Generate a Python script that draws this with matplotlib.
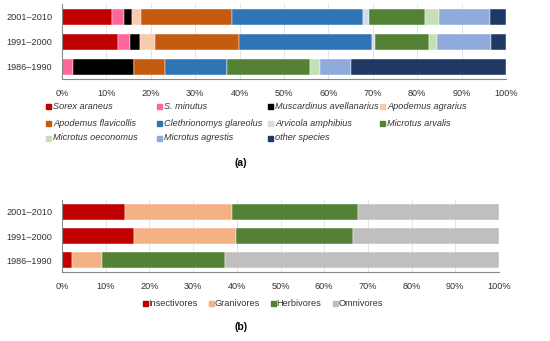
import numpy as np
import matplotlib.pyplot as plt
from matplotlib.patches import Rectangle

plt.rcParams['font.family'] = ['Liberation Sans', 'DejaVu Sans']

periods = ['1986–1990', '1991–2000', '2001–2010']

# (a) share of species, %, per period (same order as periods)
species = ['Sorex araneus', 'S. minutus', 'Muscardinus avellanarius', 'Apodemus agrarius',
           'Apodemus flavicollis', 'Clethrionomys glareolus', 'Arvicola amphibius', 'Microtus arvalis',
           'Microtus oeconomus', 'Microtus agrestis', 'other species']
species_vals = [
    [0.0, 12.7, 11.3],
    [2.4, 2.7, 2.6],
    [13.9, 2.2, 1.8],
    [0.0, 3.4, 2.0],
    [6.9, 18.9, 20.5],
    [14.0, 30.0, 29.5],
    [0.0, 0.6, 1.4],
    [18.7, 12.1, 12.7],
    [2.3, 1.8, 3.0],
    [7.0, 12.2, 11.6],
    [34.8, 3.4, 3.7],
]
species_colors = ['#C00000', '#FF669E', '#000000', '#F8CBAD', '#C55A11', '#2E75B6',
                  '#D6DCE5', '#548235', '#C5E0B4', '#8FAADC', '#203864']

# (b) trophic groups, %
groups = ['Insectivores', 'Granivores', 'Herbivores', 'Omnivores']
group_vals = [
    [2.3, 16.5, 14.5],
    [6.8, 23.3, 24.3],
    [28.1, 26.9, 28.9],
    [62.8, 33.3, 32.3],
]
group_colors = ['#C00000', '#F4B183', '#548235', '#BFBFBF']

FS = 6.6
W, H = 550, 341
fig = plt.figure(figsize=(W / 100, H / 100), dpi=100)


def px_axes(x0, y0, x1, y1):
    return fig.add_axes([x0 / W, 1 - y1 / H, (x1 - x0) / W, (y1 - y0) / H])


def style(ax):
    ax.set_xlim(0, 100)
    ax.set_ylim(-0.5, 2.5)
    ax.set_xticks(np.arange(0, 101, 10))
    ax.set_xticklabels([f'{v}%' for v in range(0, 101, 10)])
    ax.set_yticks(range(len(periods)))
    ax.set_yticklabels(periods)
    ax.tick_params(length=0, labelsize=FS, colors='#333333')
    ax.tick_params(axis='x', pad=7)
    ax.tick_params(axis='y', pad=7)
    ax.grid(axis='x', color='#E3E3E3', lw=0.7)
    ax.set_axisbelow(True)
    for s in ['top', 'right']:
        ax.spines[s].set_visible(False)
    for s in ['left', 'bottom']:
        ax.spines[s].set_color('#888888')
        ax.spines[s].set_linewidth(0.8)


def stacked(ax, vals, colors, height):
    left = np.zeros(len(periods))
    for v, c in zip(vals, colors):
        v = np.array(v)
        ax.barh(range(len(periods)), v, left=left, height=height, color=c,
                edgecolor='white', linewidth=0.3)
        left += v


ax1 = px_axes(62, 4, 506, 79)
stacked(ax1, species_vals, species_colors, 0.64)
style(ax1)

ax2 = px_axes(62, 200, 499, 272)
stacked(ax2, group_vals, group_colors, 0.7)
style(ax2)

# legend (a), 4 columns row-major
col_x = [46, 157, 268, 380]
row_y = [107, 123, 138]
for i, (name, c) in enumerate(zip(species, species_colors)):
    x, y = col_x[i % 4], row_y[i // 4]
    fig.patches.append(Rectangle((x / W, 1 - (y + 2.5) / H), 5 / W, 5 / H,
                                 transform=fig.transFigure, color=c))
    fig.text((x + 7) / W, 1 - y / H, name, fontsize=FS, style='italic',
             va='center', ha='left', color='#333333')

# legend (b), single row
leg_x = [143, 209, 271, 333]
for x, name, c in zip(leg_x, groups, group_colors):
    y = 303
    fig.patches.append(Rectangle((x / W, 1 - (y + 2.5) / H), 5 / W, 5 / H,
                                 transform=fig.transFigure, color=c))
    fig.text((x + 5.5) / W, 1 - y / H, name, fontsize=FS, va='center', ha='left',
             color='#333333')

fig.text(241 / W, 1 - 163 / H, '(a)', fontsize=7.5, fontweight='bold', ha='center', va='center')
fig.text(241 / W, 1 - 327 / H, '(b)', fontsize=7.5, fontweight='bold', ha='center', va='center')

fig.savefig('out.png', dpi=100)
